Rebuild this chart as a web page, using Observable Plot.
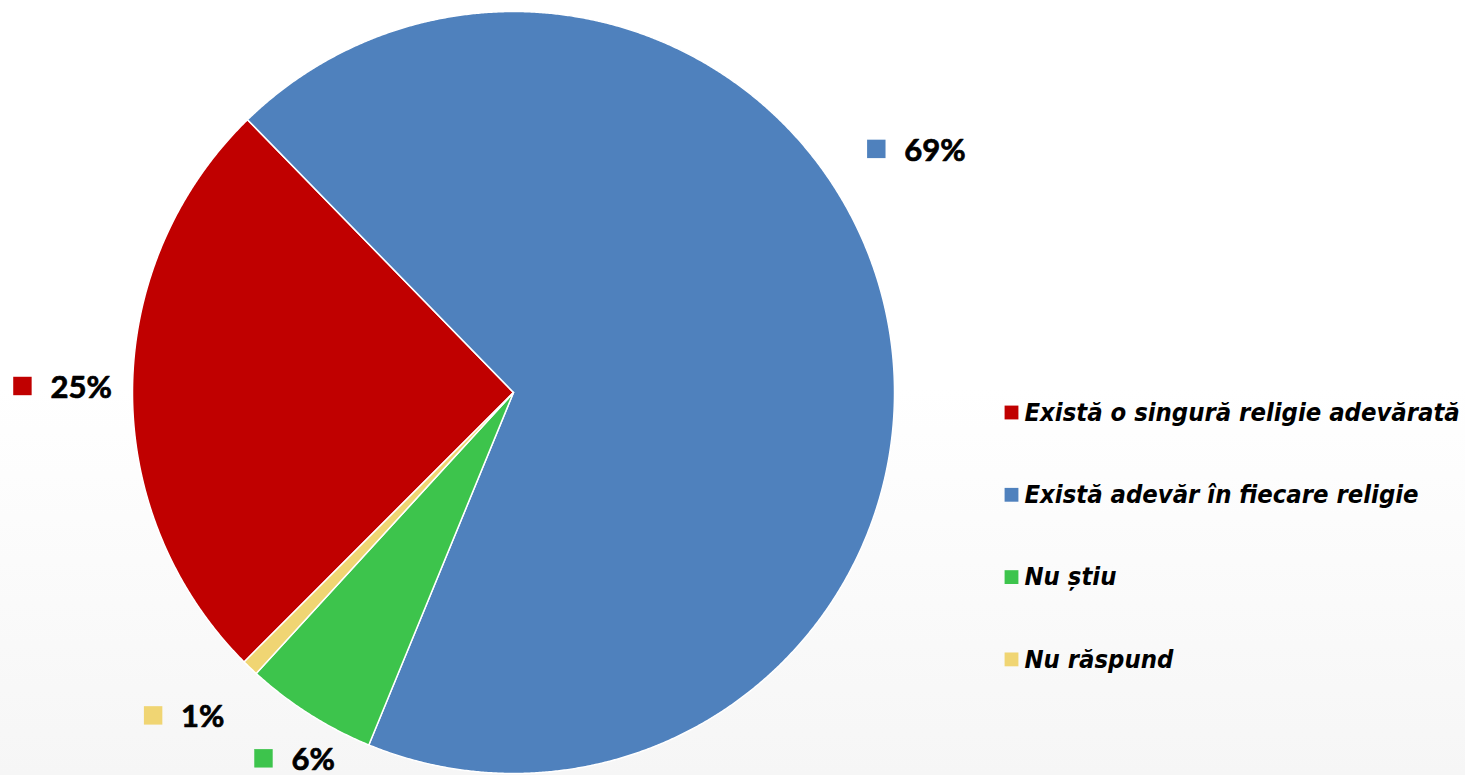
<!DOCTYPE html>
<html>
<head>
<meta charset="utf-8">
<script src="https://cdn.jsdelivr.net/npm/d3@7"></script>
<script src="https://cdn.jsdelivr.net/npm/@observablehq/plot@0.6"></script>
<style>
  html, body { margin: 0; padding: 0; }
  body { width: 1465px; height: 775px; overflow: hidden;
         background: linear-gradient(#ffffff 0%, #ffffff 50%, #f6f6f6 100%); }
  #chart svg { display: block; }
</style>
</head>
<body>
<div id="chart"></div>
<script>
// ---- data ----
const categories = ["Există o singură religie adevărată", "Există adevăr în fiecare religie", "Nu știu", "Nu răspund"];
const values = [25.2, 68.5, 5.6, 0.7];
const percentLabels = ["25%", "69%", "6%", "1%"];
const colors = ["#c00000", "#4f81bd", "#3dc44c", "#f0d573"];

// ---- layout ----
const W = 1465, H = 775;
const cx = 513, cy = 392, R = 381;           // pixel centre and radius of the pie
const deg = Math.PI / 180;

// scales in "radius units" so that 1 unit = R pixels on both axes
const xDomain = [-cx / R, (W - cx) / R];
const yDomain = [-(H - cy) / R, cy / R];
const px = (x) => (x - cx) / R;     // pixel -> data x
const py = (y) => (cy - y) / R;     // pixel -> data y

const pie = d3.pie().sort(null).value(d => d.value)
  .startAngle(225 * deg).endAngle(225 * deg + 2 * Math.PI);
const rows = categories.map((c, i) => ({cat: c, value: values[i], label: percentLabels[i], color: colors[i]}));
const arcs = pie(rows);

// polygon for each slice
const slicePts = arcs.map(a => {
  const pts = [{x: 0, y: 0}];
  const n = Math.max(2, Math.ceil((a.endAngle - a.startAngle) / (0.25 * deg)));
  for (let k = 0; k <= n; k++) {
    const t = a.startAngle + (a.endAngle - a.startAngle) * k / n;
    pts.push({x: Math.sin(t), y: Math.cos(t)});
  }
  pts.push({x: 0, y: 0});
  return pts;
});

// data-label placement (marker position; Excel "best fit" shifts the big slice label)
const labelTweak = {
  "Există adevăr în fiecare religie": {da: -22.9, r: 1.147},
  "Există o singură religie adevărată": {da: 0.4, r: 1.289},
  "Nu știu": {da: 1.95, r: 1.163},
  "Nu răspund": {da: 4.4, r: 1.270}
};
const labelRows = arcs.map(a => {
  const tw = labelTweak[a.data.cat];
  const mid = (a.startAngle + a.endAngle) / 2 + tw.da * deg;
  const x = Math.sin(mid) * tw.r, y = Math.cos(mid) * tw.r;
  return {...a.data, x, y};
});

// legend rows (order as in the source legend)
const legendTop = 412, legendStep = 82.3, legendX = 1011;
const legendRows = rows.map((d, i) => ({...d, x: px(legendX), y: py(legendTop + i * legendStep)}));

const marks = [];
slicePts.forEach((pts, i) => {
  marks.push(Plot.line(pts, {x: "x", y: "y", fill: rows[i].color, stroke: "white", strokeWidth: 1.5, strokeLinejoin: "round", curve: "linear"}));
});
// percent labels: square marker + text
marks.push(Plot.dot(labelRows, {x: "x", y: "y", fill: "color", symbol: "square", r: 10.4}));
marks.push(Plot.text(labelRows, {x: "x", y: "y", text: "label", textAnchor: "start", dx: 28, dy: 2,
  fontFamily: "Lato", fontWeight: "bold", fontSize: 31, fill: "black", stroke: "black", strokeWidth: 0.7}));
// legend
marks.push(Plot.dot(legendRows, {x: "x", y: "y", fill: "color", symbol: "square", r: 7.8}));
marks.push(Plot.text(legendRows, {x: "x", y: "y", text: "cat", textAnchor: "start", dx: 13, dy: 0,
  fontFamily: "'DejaVu Sans Condensed', 'DejaVu Sans'", fontWeight: "bold", fontStyle: "italic", fontSize: 25.4, fill: "black"}));

const chart = Plot.plot({
  width: W, height: H,
  margin: 0,
  x: {domain: xDomain, axis: null},
  y: {domain: yDomain, axis: null},
  color: {type: "identity"},
  style: {background: "transparent", overflow: "visible"},
  marks
});
document.getElementById("chart").appendChild(chart);
</script>
</body>
</html>
